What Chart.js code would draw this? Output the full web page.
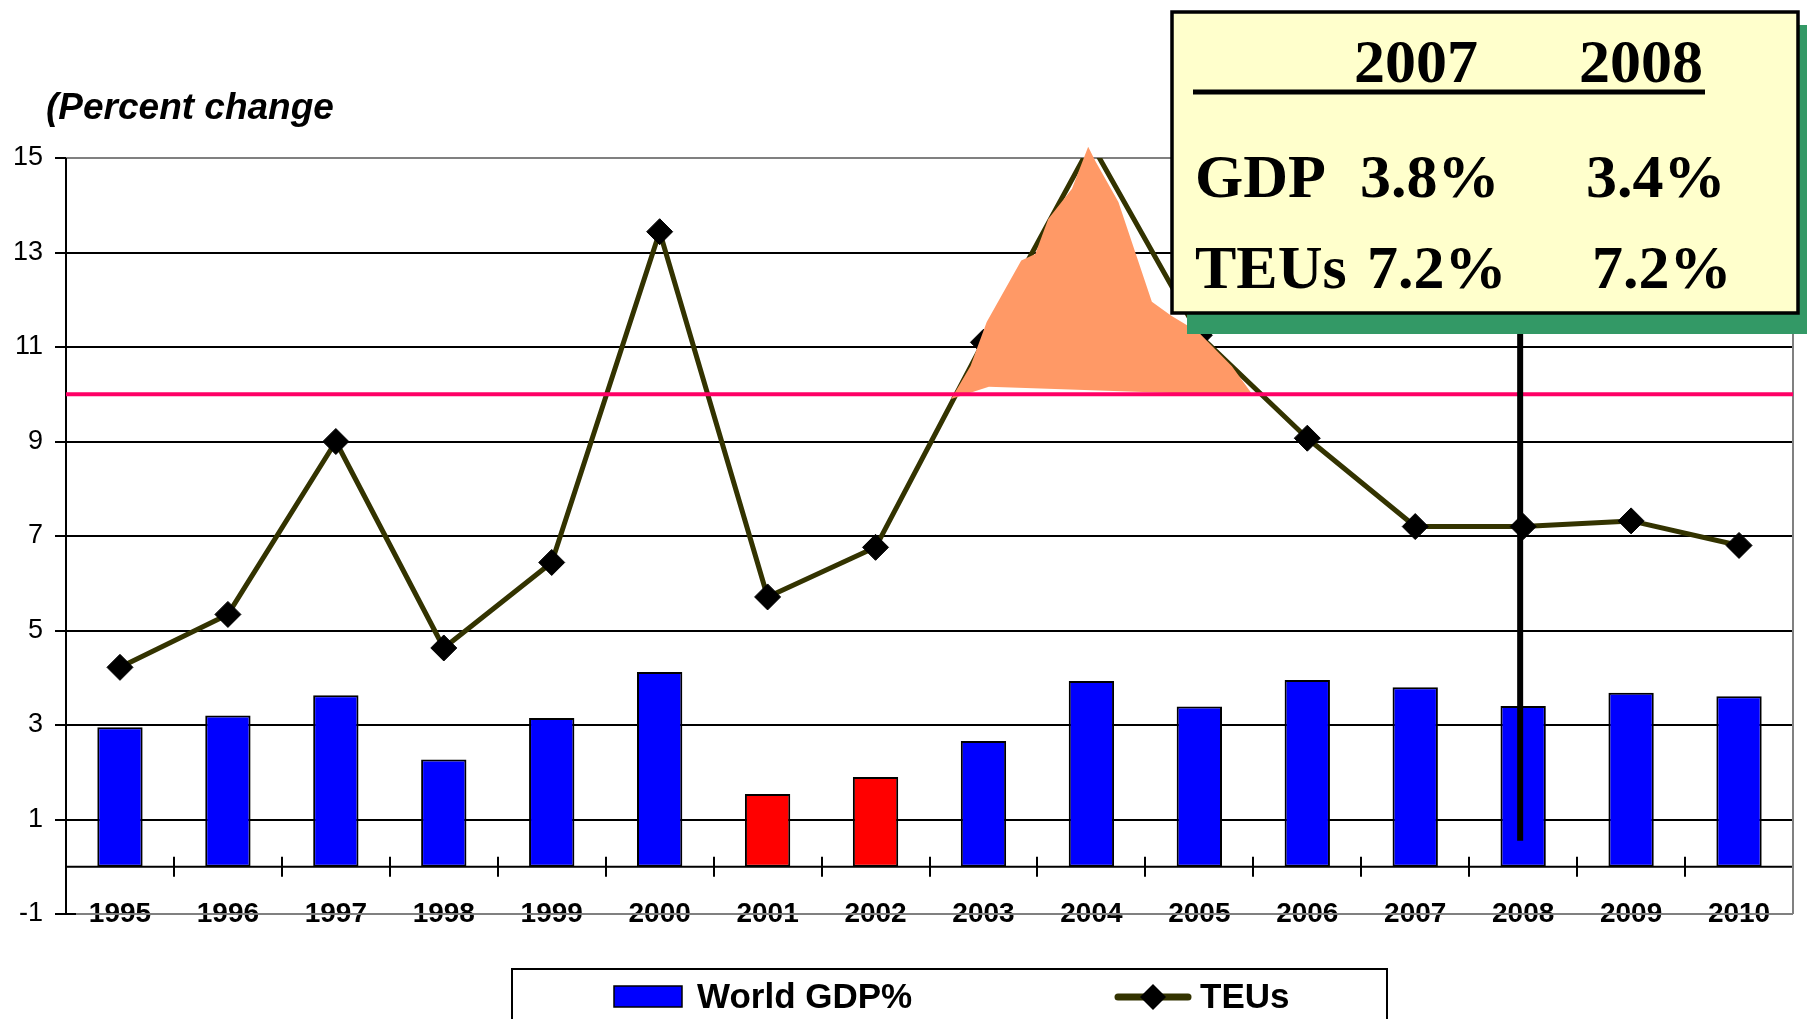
<!DOCTYPE html>
<html>
<head>
<meta charset="utf-8">
<title>World GDP and container traffic growth</title>
<script src="https://cdn.jsdelivr.net/npm/chart.js@4.4.1/dist/chart.umd.min.js"></script>
<style>
  html, body { margin: 0; padding: 0; background: #ffffff; }
  #wrap { width: 1807px; height: 1019px; position: relative; }
</style>
</head>
<body>
<div id="wrap"><canvas id="chart" width="1807" height="1019"></canvas></div>
<script>
// Annual growth, percent
const years = ['1995','1996','1997','1998','1999','2000','2001','2002','2003','2004','2005','2006','2007','2008','2009','2010'];
const worldGdp = [2.95, 3.2, 3.63, 2.27, 3.15, 4.12, 1.54, 1.9, 2.66, 3.93, 3.39, 3.95, 3.8, 3.4, 3.68, 3.61];
const teus = [4.22, 5.34, 9.0, 4.63, 6.44, 13.44, 5.71, 6.76, 11.1, 15.3, 11.25, 9.07, 7.2, 7.2, 7.32, 6.8];
const yTicks = [-1, 1, 3, 5, 7, 9, 11, 13, 15];

// Years with weak world growth, drawn in red
const slowdownYears = ['2001', '2002'];
// Years summarised in the call-out box
const boxYears = ['2007', '2008'];
// Reference level for container growth
const referenceLevel = 10;
// Marker drop line for the current year
const dropYear = '2008';
const dropBottom = 0.55;
// Highlighted peak region, as [category index, value] pairs
const peakShape = [
  [7.70, 9.90], [7.88, 10.60], [8.03, 11.53], [8.35, 12.83], [8.48, 12.97],
  [8.60, 13.71], [8.82, 14.35], [8.97, 15.24], [9.04, 14.92], [9.25, 14.07],
  [9.56, 11.96], [9.74, 11.66], [9.99, 11.32], [10.30, 10.60], [10.50, 9.97],
  [8.05, 10.16]
];

const SANS = "'Liberation Sans', Arial, Helvetica, sans-serif";
const SERIF = "'Liberation Serif', 'Times New Roman', Times, serif";
const peakIndex = teus.indexOf(Math.max(...teus));

const decorations = {
  id: 'decorations',
  beforeDatasetsDraw(chart) {
    const { ctx, chartArea: a, scales: { x, y } } = chart;
    const step = x.getPixelForValue(1) - x.getPixelForValue(0);
    ctx.save();
    // category labels along the bottom edge of the plot
    ctx.fillStyle = '#000';
    ctx.font = `bold 28px ${SANS}`;
    ctx.textAlign = 'center';
    ctx.textBaseline = 'alphabetic';
    years.forEach((yr, i) => ctx.fillText(yr, x.getPixelForValue(i), y.getPixelForValue(-1) + 8));
    // zero line with crossing ticks between categories
    const y0 = y.getPixelForValue(0);
    ctx.strokeStyle = '#000';
    ctx.lineWidth = 2;
    ctx.beginPath();
    ctx.moveTo(a.left, y0); ctx.lineTo(a.right, y0);
    for (let i = 0; i < years.length; i++) {
      const px = Math.round(x.getPixelForValue(i) + step / 2);
      ctx.moveTo(px, y0 - 10); ctx.lineTo(px, y0 + 10);
    }
    ctx.stroke();
    // plot frame (grey) on right and bottom
    ctx.strokeStyle = '#808080';
    ctx.lineWidth = 2;
    const yb = y.getPixelForValue(-1);
    ctx.beginPath();
    ctx.moveTo(a.left, yb); ctx.lineTo(a.right, yb);
    ctx.moveTo(a.right, y.getPixelForValue(15)); ctx.lineTo(a.right, yb);
    ctx.stroke();
    // y-axis line and its tick at the bottom
    ctx.strokeStyle = '#000';
    ctx.beginPath();
    ctx.moveTo(a.left, y.getPixelForValue(15)); ctx.lineTo(a.left, yb);
    ctx.moveTo(a.left - 11, yb); ctx.lineTo(a.left + 10, yb);
    ctx.stroke();
    ctx.restore();
  },
  afterDatasetsDraw(chart) {
    const { ctx, chartArea: a, scales: { x, y } } = chart;
    const step = x.getPixelForValue(1) - x.getPixelForValue(0);
    ctx.save();
    // peak highlight
    ctx.fillStyle = '#FF9966';
    ctx.beginPath();
    peakShape.forEach(([ci, v], i) => {
      const px = x.getPixelForValue(0) + ci * step;
      const py = y.getPixelForValue(v);
      if (i === 0) ctx.moveTo(px, py); else ctx.lineTo(px, py);
    });
    ctx.closePath();
    ctx.fill();
    // reference level
    const yr = y.getPixelForValue(referenceLevel);
    ctx.strokeStyle = '#FF0066';
    ctx.lineWidth = 4;
    ctx.beginPath();
    ctx.moveTo(a.left, yr); ctx.lineTo(a.right, yr);
    ctx.stroke();
    // drop line for the highlighted year
    const dx = x.getPixelForValue(years.indexOf(dropYear)) - 3;
    ctx.strokeStyle = '#000';
    ctx.lineWidth = 6;
    ctx.beginPath();
    ctx.moveTo(dx, y.getPixelForValue(dropBottom));
    ctx.lineTo(dx, y.getPixelForValue(12));
    ctx.stroke();
    ctx.restore();
  },
  afterDraw(chart) {
    const { ctx } = chart;
    ctx.save();
    // axis caption
    ctx.fillStyle = '#000';
    ctx.font = `italic bold 37px ${SANS}`;
    ctx.textBaseline = 'alphabetic';
    ctx.fillText('(Percent change', 46, 119);

    // call-out box with shadow
    ctx.fillStyle = '#339966';
    ctx.fillRect(1187, 25, 640, 309);
    ctx.fillStyle = '#FFFFCC';
    ctx.fillRect(1172, 12, 626, 301);
    ctx.strokeStyle = '#000';
    ctx.lineWidth = 3.5;
    ctx.strokeRect(1172, 12, 626, 301);

    ctx.fillStyle = '#000';
    ctx.font = `bold 62px ${SERIF}`;
    ctx.fillText(boxYears[0], 1354, 82);
    ctx.fillText(boxYears[1], 1579, 82);
    ctx.lineWidth = 5;
    ctx.beginPath();
    ctx.moveTo(1193, 92); ctx.lineTo(1705, 92);
    ctx.stroke();
    const i0 = years.indexOf(boxYears[0]);
    const i1 = years.indexOf(boxYears[1]);
    ctx.fillText('GDP', 1195, 197);
    ctx.fillText(worldGdp[i0].toFixed(1) + '%', 1360, 197);
    ctx.fillText(worldGdp[i1].toFixed(1) + '%', 1586, 197);
    ctx.fillText('TEUs', 1195, 288);
    ctx.fillText(teus[i0].toFixed(1) + '%', 1367, 288);
    ctx.fillText(teus[i1].toFixed(1) + '%', 1592, 288);

    // legend
    const ds = chart.data.datasets;
    ctx.strokeStyle = '#000';
    ctx.lineWidth = 2;
    ctx.strokeRect(512, 969, 875, 70);
    ctx.fillStyle = '#0000FF';
    ctx.fillRect(614, 986, 68, 21);
    ctx.lineWidth = 1.5;
    ctx.strokeRect(614, 986, 68, 21);
    ctx.fillStyle = '#000';
    ctx.font = `bold 35px ${SANS}`;
    ctx.fillText(ds[0].label, 697, 1008);
    ctx.strokeStyle = ds[1].borderColor;
    ctx.lineWidth = 7;
    ctx.lineCap = 'round';
    ctx.beginPath();
    ctx.moveTo(1118, 997); ctx.lineTo(1188, 997);
    ctx.stroke();
    ctx.fillStyle = '#000';
    ctx.beginPath();
    ctx.moveTo(1153 - 13, 997); ctx.lineTo(1153, 984); ctx.lineTo(1153 + 13, 997); ctx.lineTo(1153, 1010);
    ctx.closePath();
    ctx.fill();
    ctx.fillText(ds[1].label, 1200, 1008);
    ctx.restore();
  }
};

new Chart(document.getElementById('chart'), {
  type: 'bar',
  data: {
    labels: years,
    datasets: [
      {
        type: 'bar',
        label: 'World GDP%',
        data: worldGdp,
        backgroundColor: years.map(yr => slowdownYears.includes(yr) ? '#FF0000' : '#0000FF'),
        borderColor: '#000000',
        borderWidth: 2,
        borderSkipped: false,
        categoryPercentage: 1.0,
        barPercentage: 0.42,
        order: 2
      },
      {
        type: 'line',
        label: 'TEUs',
        data: teus,
        borderColor: '#333300',
        borderWidth: 5,
        borderJoinStyle: 'round',
        tension: 0,
        pointStyle: 'rectRot',
        pointRadius: ctx => ctx.dataIndex === peakIndex ? 0 : 13,
        pointBackgroundColor: '#000000',
        pointBorderColor: '#000000',
        pointBorderWidth: 1,
        order: 1
      }
    ]
  },
  options: {
    responsive: false,
    devicePixelRatio: 1,
    animation: false,
    events: [],
    layout: { padding: { top: 158, left: 0, right: 13, bottom: 85 } },
    plugins: {
      legend: { display: false },
      tooltip: { enabled: false },
      title: { display: false }
    },
    scales: {
      x: {
        position: 'bottom',
        grid: { display: false, drawTicks: false },
        border: { display: false },
        ticks: { display: false },
        afterFit(scale) { scale.height = 20; }
      },
      y: {
        min: -1,
        max: 15,
        afterBuildTicks(scale) { scale.ticks = yTicks.map(v => ({ value: v })); },
        grid: {
          color: ctx => ctx.tick && ctx.tick.value === 15 ? '#808080' : (ctx.tick && ctx.tick.value === -1 ? 'rgba(0,0,0,0)' : '#000000'),
          tickColor: '#000000',
          lineWidth: 2,
          tickLength: 11
        },
        border: { display: false },
        ticks: {
          color: '#000',
          padding: 12,
          font: { family: SANS, size: 27 }
        },
        afterFit(scale) { scale.width = 66; }
      }
    }
  },
  plugins: [decorations]
});
</script>
</body>
</html>
